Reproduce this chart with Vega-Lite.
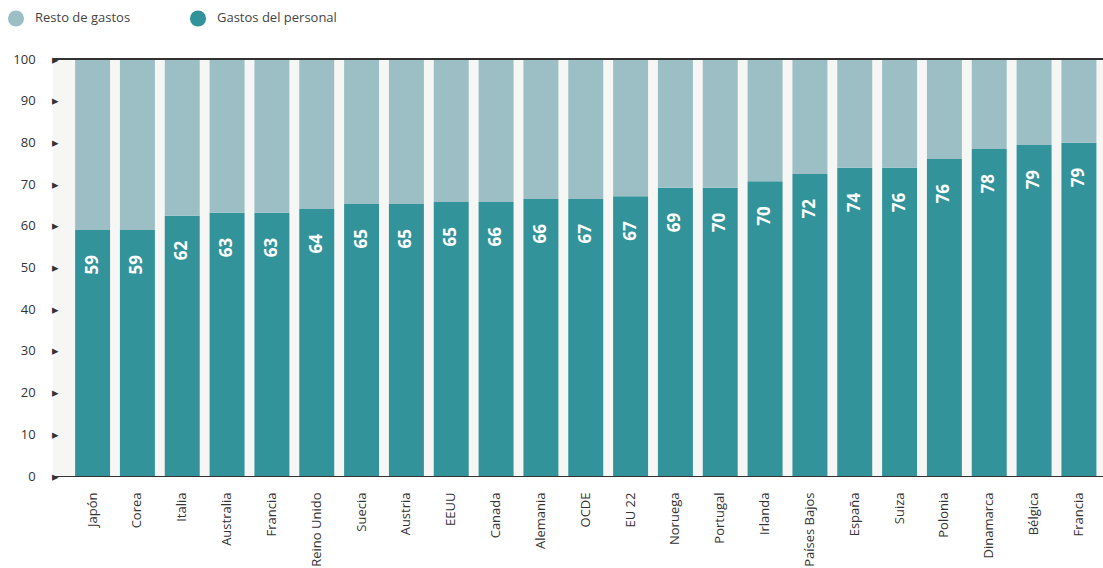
{
  "$schema": "https://vega.github.io/schema/vega-lite/v6.json",
  "width": 1050,
  "height": 417,
  "autosize": {"type": "none"},
  "padding": {"left": 53, "top": 59, "right": 0, "bottom": 92},
  "background": "white",
  "config": {
    "view": {"fill": "#f6f6f4", "stroke": null},
    "font": "Open Sans"
  },
  "data": {
    "values": [
      {"pais": "Japón", "tipo": "Gastos del personal", "valor": 59.0, "etiqueta": 59},
      {"pais": "Japón", "tipo": "Resto de gastos", "valor": 41.0},
      {"pais": "Corea", "tipo": "Gastos del personal", "valor": 59.0, "etiqueta": 59},
      {"pais": "Corea", "tipo": "Resto de gastos", "valor": 41.0},
      {"pais": "Italia", "tipo": "Gastos del personal", "valor": 62.4, "etiqueta": 62},
      {"pais": "Italia", "tipo": "Resto de gastos", "valor": 37.6},
      {"pais": "Australia", "tipo": "Gastos del personal", "valor": 63.1, "etiqueta": 63},
      {"pais": "Australia", "tipo": "Resto de gastos", "valor": 36.9},
      {"pais": "Francia ", "tipo": "Gastos del personal", "valor": 63.1, "etiqueta": 63},
      {"pais": "Francia ", "tipo": "Resto de gastos", "valor": 36.9},
      {"pais": "Reino Unido", "tipo": "Gastos del personal", "valor": 64.0, "etiqueta": 64},
      {"pais": "Reino Unido", "tipo": "Resto de gastos", "valor": 36.0},
      {"pais": "Suecia", "tipo": "Gastos del personal", "valor": 65.2, "etiqueta": 65},
      {"pais": "Suecia", "tipo": "Resto de gastos", "valor": 34.8},
      {"pais": "Austria", "tipo": "Gastos del personal", "valor": 65.2, "etiqueta": 65},
      {"pais": "Austria", "tipo": "Resto de gastos", "valor": 34.8},
      {"pais": "EEUU", "tipo": "Gastos del personal", "valor": 65.7, "etiqueta": 65},
      {"pais": "EEUU", "tipo": "Resto de gastos", "valor": 34.3},
      {"pais": "Canada", "tipo": "Gastos del personal", "valor": 65.7, "etiqueta": 66},
      {"pais": "Canada", "tipo": "Resto de gastos", "valor": 34.3},
      {"pais": "Alemania", "tipo": "Gastos del personal", "valor": 66.4, "etiqueta": 66},
      {"pais": "Alemania", "tipo": "Resto de gastos", "valor": 33.6},
      {"pais": "OCDE", "tipo": "Gastos del personal", "valor": 66.4, "etiqueta": 67},
      {"pais": "OCDE", "tipo": "Resto de gastos", "valor": 33.6},
      {"pais": "EU 22", "tipo": "Gastos del personal", "valor": 67.1, "etiqueta": 67},
      {"pais": "EU 22", "tipo": "Resto de gastos", "valor": 32.9},
      {"pais": "Noruega", "tipo": "Gastos del personal", "valor": 69.1, "etiqueta": 69},
      {"pais": "Noruega", "tipo": "Resto de gastos", "valor": 30.9},
      {"pais": "Portugal", "tipo": "Gastos del personal", "valor": 69.1, "etiqueta": 70},
      {"pais": "Portugal", "tipo": "Resto de gastos", "valor": 30.9},
      {"pais": "Irlanda", "tipo": "Gastos del personal", "valor": 70.7, "etiqueta": 70},
      {"pais": "Irlanda", "tipo": "Resto de gastos", "valor": 29.3},
      {"pais": "Países Bajos", "tipo": "Gastos del personal", "valor": 72.4, "etiqueta": 72},
      {"pais": "Países Bajos", "tipo": "Resto de gastos", "valor": 27.6},
      {"pais": "España", "tipo": "Gastos del personal", "valor": 73.9, "etiqueta": 74},
      {"pais": "España", "tipo": "Resto de gastos", "valor": 26.1},
      {"pais": "Suiza", "tipo": "Gastos del personal", "valor": 73.9, "etiqueta": 76},
      {"pais": "Suiza", "tipo": "Resto de gastos", "valor": 26.1},
      {"pais": "Polonia", "tipo": "Gastos del personal", "valor": 76.0, "etiqueta": 76},
      {"pais": "Polonia", "tipo": "Resto de gastos", "valor": 24.0},
      {"pais": "Dinamarca", "tipo": "Gastos del personal", "valor": 78.4, "etiqueta": 78},
      {"pais": "Dinamarca", "tipo": "Resto de gastos", "valor": 21.6},
      {"pais": "Bélgica", "tipo": "Gastos del personal", "valor": 79.4, "etiqueta": 79},
      {"pais": "Bélgica", "tipo": "Resto de gastos", "valor": 20.6},
      {"pais": "Francia", "tipo": "Gastos del personal", "valor": 79.9, "etiqueta": 79},
      {"pais": "Francia", "tipo": "Resto de gastos", "valor": 20.1}
    ]
  },
  "layer": [
    {
      "mark": {"type": "bar"},
      "encoding": {
        "x": {
          "field": "pais",
          "type": "nominal",
          "sort": null,
          "scale": {"paddingInner": 0.22, "paddingOuter": 0.32, "align": 0.77},
          "axis": {
            "title": null,
            "labelAngle": -90,
            "labelAlign": "right",
            "labelBaseline": "middle",
            "labelFontSize": 13,
            "labelColor": "#333333",
            "labelPadding": 16,
            "ticks": false,
            "domainColor": "#333333",
            "domainWidth": 1.2,
            "labelExpr": "trim(datum.label)"
          }
        },
        "y": {
          "field": "valor",
          "type": "quantitative",
          "stack": "zero",
          "scale": {"domain": [0, 100], "nice": false},
          "axis": {
            "title": null,
            "values": [0, 10, 20, 30, 40, 50, 60, 70, 80, 90, 100],
            "grid": false,
            "domain": false,
            "ticks": false,
            "labelFontSize": 13,
            "labelColor": "#333333",
            "labelPadding": -6,
            "labelExpr": "datum.label + '\u00a0\u00a0\u00a0\u00a0\u00a0\u25b8'"
          }
        },
        "color": {
          "field": "tipo",
          "type": "nominal",
          "scale": {
            "domain": ["Resto de gastos", "Gastos del personal"],
            "range": ["#9cbfc5", "#33939a"]
          },
          "legend": {
            "title": null,
            "orient": "none",
            "direction": "horizontal",
            "legendX": -46,
            "legendY": -50,
            "symbolType": "circle",
            "symbolSize": 260,
            "symbolOpacity": 1,
            "labelFontSize": 13,
            "labelColor": "#444444",
            "labelOffset": 10,
            "columnPadding": 58
          }
        },
        "order": {"field": "tipo", "type": "nominal", "sort": "ascending"}
      }
    },
    {
      "mark": {"type": "rule", "color": "#333333", "strokeWidth": 1.2},
      "encoding": {"y": {"datum": 100}}
    },
    {
      "transform": [{"filter": "datum.tipo == 'Gastos del personal'"}],
      "mark": {
        "type": "text",
        "angle": 270,
        "align": "right",
        "baseline": "middle",
        "dx": -25,
        "fontSize": 17,
        "fontWeight": "bold",
        "color": "white"
      },
      "encoding": {
        "x": {"field": "pais", "type": "nominal", "sort": null},
        "y": {"field": "valor", "type": "quantitative"},
        "text": {"field": "etiqueta", "type": "quantitative"}
      }
    }
  ]
}
